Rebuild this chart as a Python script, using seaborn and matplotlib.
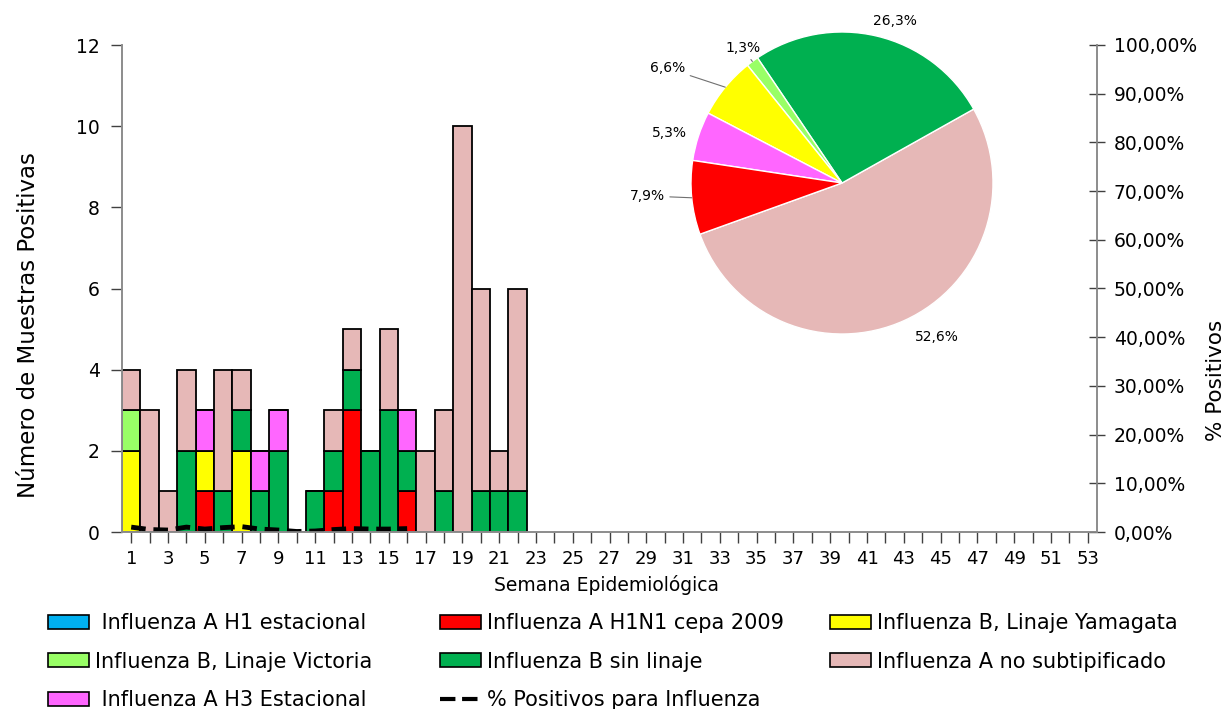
import numpy as np
import pandas as pd
import matplotlib
matplotlib.use("Agg")
import matplotlib.pyplot as plt
import seaborn as sns
from matplotlib.patches import Patch
from matplotlib.lines import Line2D
from matplotlib.ticker import FuncFormatter, MultipleLocator

# ---------------- data ----------------
weeks = list(range(1, 23))
h1_estacional = [0] * 22
h1n1_2009 = [0, 0, 0, 0, 1, 0, 0, 0, 0, 0, 0, 1, 3, 0, 0, 1, 0, 0, 0, 0, 0, 0]
b_yamagata = [2, 0, 0, 0, 1, 0, 2, 0, 0, 0, 0, 0, 0, 0, 0, 0, 0, 0, 0, 0, 0, 0]
b_victoria = [1, 0, 0, 0, 0, 0, 0, 0, 0, 0, 0, 0, 0, 0, 0, 0, 0, 0, 0, 0, 0, 0]
b_sin_linaje = [0, 0, 0, 2, 0, 1, 1, 1, 2, 0, 1, 1, 1, 2, 3, 1, 0, 1, 0, 1, 1, 1]
h3_estacional = [0, 0, 0, 0, 1, 0, 0, 1, 1, 0, 0, 0, 0, 0, 0, 1, 0, 0, 0, 0, 0, 0]
a_no_subtip = [1, 3, 1, 2, 0, 3, 1, 0, 0, 0, 0, 1, 1, 0, 2, 0, 2, 2, 10, 5, 1, 5]

pct_weeks = list(range(1, 17))
pct_positivos = [1.0, 0.5, 0.4, 1.0, 0.6, 0.9, 1.1, 0.6, 0.4, 0.1, 0.2, 0.5, 0.7, 0.6, 0.6, 0.7]

x_ticks = list(range(1, 54))
x_ticklabels = [str(w) if w % 2 == 1 else "" for w in x_ticks]

names = {
    "h1": "Influenza A H1 estacional",
    "h1n1": "Influenza A H1N1 cepa 2009",
    "yam": "Influenza B, Linaje Yamagata",
    "vic": "Influenza B, Linaje Victoria",
    "bsin": "Influenza B sin linaje",
    "anos": "Influenza A no subtipificado",
    "h3": "Influenza A H3 Estacional",
}
series = {
    "h1": h1_estacional, "h1n1": h1n1_2009, "yam": b_yamagata, "vic": b_victoria,
    "bsin": b_sin_linaje, "anos": a_no_subtip, "h3": h3_estacional,
}
colors = {
    "h1": "#00B0F0", "h1n1": "#FF0000", "yam": "#FFFF00", "vic": "#99FF66",
    "bsin": "#00B050", "anos": "#E6B8B7", "h3": "#FF66FF",
}

# long data for seaborn
rows = []
for k, vals in series.items():
    for w, v in zip(weeks, vals):
        if v > 0:
            rows.append({"week": w, "tipo": names[k], "n": v})
df = pd.DataFrame(rows)

sns.set_theme(style="white")
plt.rcParams["font.family"] = ["DejaVu Sans"]
for key in ["text.color", "axes.labelcolor", "xtick.color", "ytick.color"]:
    plt.rcParams[key] = "black"

fig = plt.figure(figsize=(12.30, 7.09), dpi=100)
ax = fig.add_axes([122 / 1230, 1 - 532 / 709, (1097 - 122) / 1230, (532 - 45) / 709])

# first hue level is on top of the stack
hue_top_to_bottom = [names[k] for k in ["anos", "h3", "bsin", "vic", "yam", "h1n1"]]
palette = {names[k]: colors[k] for k in names}
sns.histplot(data=df, x="week", weights="n", hue="tipo", hue_order=hue_top_to_bottom,
             palette=palette, multiple="stack", discrete=True, shrink=1,
             edgecolor="black", linewidth=1.3, alpha=1, legend=False, ax=ax)

ax.set_xlim(0.5, 53.5)
ax.set_ylim(0, 12)
ax.set_yticks(range(0, 13, 2))
ax.set_xticks(x_ticks)
ax.set_xticklabels(x_ticklabels)
ax.tick_params(axis="x", direction="out", length=8, width=1, color="#404040",
               labelsize=13, pad=5, bottom=True)
ax.tick_params(axis="y", direction="out", length=8, width=1, color="#404040",
               labelsize=13.5, pad=8, left=True)
ax.set_xlabel("Semana Epidemiológica", fontsize=13.5)
ax.xaxis.set_label_coords((607 - 122) / 975, (532 - 575) / 487)
ax.set_ylabel("Número de Muestras Positivas", fontsize=16.5)
ax.yaxis.set_label_coords((40 - 122) / 975, (532 - 325) / 487)
ax.spines["top"].set_visible(False)
for s in ["left", "bottom", "right"]:
    ax.spines[s].set_color("#8c8c8c")
    ax.spines[s].set_linewidth(1.2)
ax.grid(False)

ax2 = ax.twinx()
sns.lineplot(x=pct_weeks, y=[p / 100 for p in pct_positivos], ax=ax2, color="black",
             linewidth=3.5, linestyle=(0, (3, 1.6)))
ax2.set_ylim(0, 1)
ax2.yaxis.set_major_locator(MultipleLocator(0.1))
ax2.yaxis.set_major_formatter(FuncFormatter(lambda v, p: f"{v * 100:.2f}%".replace(".", ",")))
ax2.tick_params(axis="y", direction="inout", length=12, width=1, color="#404040",
                labelsize=13.5, pad=6, right=True)
ax2.set_ylabel("% Positivos", fontsize=15.5)
ax2.yaxis.set_label_coords((1206 - 122) / 975, (532 - 380) / 487)
ax2.spines["top"].set_visible(False)
for s in ["left", "bottom", "right"]:
    ax2.spines[s].set_color("#8c8c8c")
    ax2.spines[s].set_linewidth(1.2)
ax2.grid(False)

# ---------------- pie ----------------
pie_keys = ["anos", "bsin", "vic", "yam", "h3", "h1n1"]
pie_vals = [sum(series[k]) for k in pie_keys]
total = sum(pie_vals)
pie_frac = [v / total for v in pie_vals]
pie_labels = [f"{f * 100:.1f}%".replace(".", ",") for f in pie_frac]
label_r = [1.20, 1.13, 1.11, 1.38, 1.19, 1.29]
label_shift = [7, -4.6, 0, 6, 2, -1.8]
leader = [False, False, True, True, False, True]

axp = fig.add_axes([691 / 1230, 1 - 334 / 709, 302 / 1230, 302 / 709])
start = 29.3 - 360 * pie_frac[0]
wedges, _ = axp.pie(pie_vals, colors=[colors[k] for k in pie_keys], startangle=start,
                    counterclock=True, radius=1.0)
axp.set_xlim(-1, 1)
axp.set_ylim(-1, 1)
for w, lab, r, sh, ld in zip(wedges, pie_labels, label_r, label_shift, leader):
    mid = np.deg2rad((w.theta1 + w.theta2) / 2)
    lt = mid + np.deg2rad(sh)
    tx, ty = r * np.cos(lt), r * np.sin(lt)
    if ld:
        axp.annotate(lab, xy=(np.cos(mid), np.sin(mid)), xytext=(tx, ty),
                     ha="center", va="center", fontsize=10,
                     arrowprops=dict(arrowstyle="-", color="#707070", lw=0.8,
                                     shrinkA=1, shrinkB=0))
    else:
        axp.text(tx, ty, lab, ha="center", va="center", fontsize=10)

# ---------------- legend (three columns) ----------------
def ph(k):
    return Patch(facecolor=colors[k], edgecolor="black", linewidth=1.2)

legend_cols = [
    ([ph("h1"), ph("vic"), ph("h3")],
     [" " + names["h1"], names["vic"], " " + names["h3"]], 48),
    ([ph("h1n1"), ph("bsin"), Line2D([], [], color="black", ls="--", lw=3)],
     [names["h1n1"], names["bsin"], "% Positivos para Influenza"], 440),
    ([ph("yam"), ph("anos")],
     [names["yam"], names["anos"]], 830),
]
for hs, ls, xpx in legend_cols:
    fig.legend(hs, ls, ncol=1, loc="upper left",
               bbox_to_anchor=(xpx / 1230, 1 - 613 / 709),
               frameon=False, fontsize=15, handlelength=1.95, handleheight=0.65,
               handletextpad=0.3, labelspacing=0.9, borderpad=0, borderaxespad=0)

fig.savefig("out.png", dpi=100)
